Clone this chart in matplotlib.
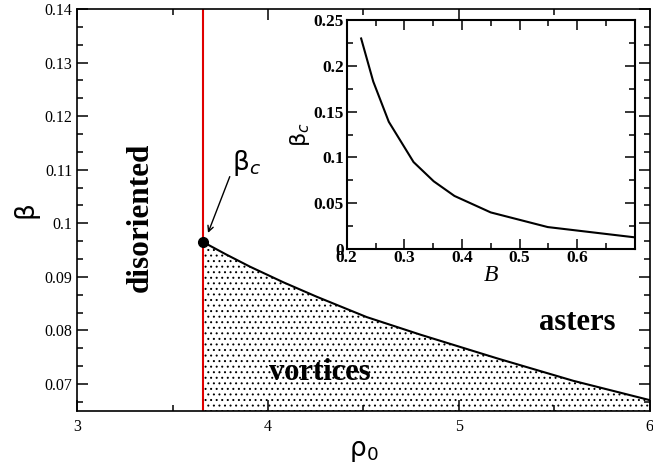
import matplotlib
matplotlib.use('Agg')
import matplotlib.pyplot as plt
from matplotlib.ticker import MultipleLocator, FormatStrFormatter

# main panel: boundary between vortices and asters
rho0 = [3.66, 3.78, 3.906, 4.08, 4.255, 4.517, 4.8, 5.2, 5.6, 6.0]
beta = [0.0965, 0.0942, 0.0919, 0.0890, 0.0863, 0.0825, 0.0792, 0.0748, 0.0706, 0.0670]
rho_c = 3.66
beta_c = 0.0965

# inset: beta_c as a function of B
B = [0.225, 0.246, 0.273, 0.316, 0.351, 0.387, 0.45, 0.549, 0.697]
beta_c_B = [0.230, 0.183, 0.139, 0.095, 0.074, 0.058, 0.040, 0.024, 0.013]

plt.rcParams['hatch.linewidth'] = 0.7
serif = 'Liberation Serif'

fig = plt.figure(figsize=(6.53, 4.69), dpi=100)
ax = fig.add_axes([0.118, 0.124, 0.877, 0.857])

ax.fill_between(rho0, 0.0, beta, facecolor='white', edgecolor='black',
                hatch='...', linewidth=0)
ax.plot(rho0, beta, color='black', lw=1.5)
ax.axvline(rho_c, color='#e00000', lw=1.5)
ax.plot([rho_c], [beta_c], 'o', color='black', ms=7, zorder=5)

ax.set_xlim(3, 6)
ax.set_ylim(0.065, 0.14)
ax.xaxis.set_major_locator(MultipleLocator(1))
ax.xaxis.set_minor_locator(MultipleLocator(0.5))
ax.yaxis.set_major_locator(MultipleLocator(0.01))
ax.yaxis.set_minor_locator(MultipleLocator(0.01 / 3))
ax.yaxis.set_major_formatter(FormatStrFormatter('%g'))
ax.tick_params(which='both', direction='in', top=True, right=True, width=1.1)
ax.tick_params(which='major', length=8)
ax.tick_params(which='minor', length=4.5)
for lab in ax.get_xticklabels() + ax.get_yticklabels():
    lab.set_fontfamily(serif)
    lab.set_fontsize(11.5)
ax.tick_params(axis='x', pad=6)
for s in ax.spines.values():
    s.set_linewidth(1.2)

ax.set_xlabel('ρ$_0$', fontsize=19, labelpad=2)
ax.set_ylabel('β', fontsize=19, labelpad=4)

ax.text(3.33, 0.1012, 'disoriented', rotation=90, fontsize=22.5, fontweight='bold',
        family=serif, ha='center', va='center')
ax.text(4.27, 0.0722, 'vortices', fontsize=22, fontweight='bold',
        family=serif, ha='center', va='center')
ax.text(5.62, 0.0815, 'asters', fontsize=22, fontweight='bold',
        family=serif, ha='center', va='center')
ax.text(3.81, 0.1100, 'β$_c$', fontsize=19, ha='left', va='baseline')
ax.annotate('', xy=(3.686, 0.0982), xytext=(3.80, 0.1087),
            arrowprops=dict(arrowstyle='->', color='black', lw=1,
                            shrinkA=0, shrinkB=0))

# inset
ins = fig.add_axes([0.531, 0.469, 0.441, 0.488])
ins.plot(B, beta_c_B, color='black', lw=1.5)
ins.set_xlim(0.2, 0.7)
ins.set_ylim(0, 0.25)
ins.xaxis.set_major_locator(MultipleLocator(0.1))
ins.xaxis.set_minor_locator(MultipleLocator(0.05))
ins.yaxis.set_major_locator(MultipleLocator(0.05))
ins.yaxis.set_minor_locator(MultipleLocator(0.025))
ins.tick_params(which='both', direction='in', top=True, right=True, width=1.1, pad=2)
ins.tick_params(which='major', length=7)
ins.tick_params(which='minor', length=4)
ins.set_xticks([0.2, 0.3, 0.4, 0.5, 0.6])
ins.set_xticklabels(['0.2', '0.3', '0.4', '0.5', '0.6'])
ins.set_yticks([0, 0.05, 0.1, 0.15, 0.2, 0.25])
ins.set_yticklabels(['0', '0.05', '0.1', '0.15', '0.2', '0.25'])
for lab in ins.get_xticklabels() + ins.get_yticklabels():
    lab.set_fontfamily(serif)
    lab.set_fontsize(12.5)
    lab.set_fontweight('bold')
ins.tick_params(axis='x', pad=1)
for s in ins.spines.values():
    s.set_linewidth(1.5)
ins.set_xlabel('B', fontsize=17, family=serif, style='italic', labelpad=-1)
ins.set_ylabel('β$_c$', fontsize=16, labelpad=1)

fig.savefig('out.png', dpi=100)
